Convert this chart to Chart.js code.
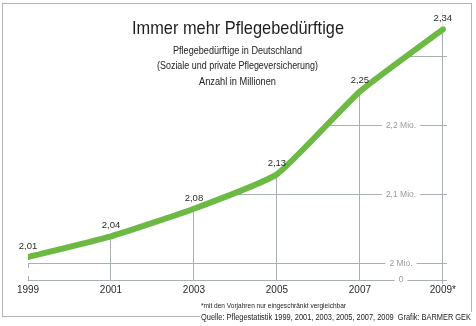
<!DOCTYPE html>
<html><head><meta charset="utf-8">
<script src="https://cdn.jsdelivr.net/npm/chart.js@4"></script>
<style>
html,body{margin:0;padding:0;background:#fff;}
#wrap{position:relative;width:476px;height:326px;overflow:hidden;}
canvas{position:absolute;left:0;top:0;}
.t{position:absolute;white-space:nowrap;color:#222;font-family:"Liberation Sans","DejaVu Sans",sans-serif;line-height:1;}
.ln{position:absolute;background:#b4b4b4;}
</style></head><body>
<div id="wrap">
<canvas id="c" width="476" height="326"></canvas>
<div class="ln" style="left:2px;top:3px;width:470px;height:1px"></div>
<div class="ln" style="left:2px;top:3px;width:1px;height:314px"></div>
<div class="ln" style="left:471px;top:3px;width:1px;height:309px"></div>
<div class="ln" style="left:2px;top:316px;width:198px;height:1px"></div>
<div class="t" data-x="237.5" data-y="27" data-w="212" data-a="c" style="font-size:19px;color:#1e1e1e">Immer mehr Pflegebedürftige</div>
<div class="t" data-x="237.5" data-y="51" data-w="129" data-a="c" style="font-size:10px">Pflegebedürftige in Deutschland</div>
<div class="t" data-x="237.5" data-y="66" data-w="161" data-a="c" style="font-size:10px">(Soziale und private Pflegeversicherung)</div>
<div class="t" data-x="237.5" data-y="82" data-w="77" data-a="c" style="font-size:10px">Anzahl in Millionen</div>
<div class="t" data-x="201" data-y="305" data-w="145" data-a="l" style="font-size:7px">*mit den Vorjahren nur eingeschränkt vergleichbar</div>
<div class="t" data-x="201" data-y="317" data-w="270" data-a="l" style="font-size:8.5px">Quelle: Pflegestatistik 1999, 2001, 2003, 2005, 2007, 2009&nbsp;&nbsp;Grafik: BARMER GEK</div>
</div>
<script>
document.querySelectorAll('.t').forEach(el => {
  const w = el.getBoundingClientRect().width, h = el.getBoundingClientRect().height;
  const tw = parseFloat(el.dataset.w), s = tw / w;
  const x = parseFloat(el.dataset.x), y = parseFloat(el.dataset.y);
  el.style.transformOrigin = '0 0';
  el.style.left = (el.dataset.a === 'c' ? x - tw / 2 : x) + 'px';
  el.style.top = (y - h / 2) + 'px';
  el.style.transform = 'scaleX(' + s + ')';
});

const years = [1999, 2001, 2003, 2005, 2007, 2009];
const yearLabels = ["1999", "2001", "2003", "2005", "2007", "2009*"];
const values = [2.01, 2.04, 2.08, 2.13, 2.25, 2.34];
const valueLabels = ["2,01", "2,04", "2,08", "2,13", "2,25", "2,34"];
const gridValues = [1.9768, 2.0, 2.1, 2.2, 2.3];
const gridLabels = ["0", "2 Mio.", "2,1 Mio.", "2,2 Mio.", ""];

const GRID = '#a9b0b4';
const FONT = '"Liberation Sans","DejaVu Sans",sans-serif';

const overlay = {
  id: 'overlay',
  beforeDatasetsDraw(chart) {
    const ctx = chart.ctx, x = chart.scales.x, y = chart.scales.y;
    ctx.save();
    ctx.strokeStyle = GRID; ctx.lineWidth = 1;
    const px = Math.round(x.getPixelForValue(years[0])) + 0.5;
    ctx.beginPath();
    ctx.moveTo(px, y.getPixelForValue(gridValues[1]));
    ctx.lineTo(px, y.getPixelForValue(gridValues[1]) + 4);
    ctx.moveTo(px, y.getPixelForValue(gridValues[0]) - 4);
    ctx.lineTo(px, y.getPixelForValue(gridValues[0]));
    ctx.stroke();
    ctx.restore();
  },
  afterDatasetsDraw(chart) {
    const ctx = chart.ctx, x = chart.scales.x, y = chart.scales.y;
    ctx.save();
    ctx.font = '8.5px ' + FONT;
    ctx.textAlign = 'center'; ctx.textBaseline = 'middle';
    const lx = 401;
    gridValues.forEach((v, i) => {
      if (!gridLabels[i]) return;
      const py = y.getPixelForValue(v);
      const w = ctx.measureText(gridLabels[i]).width;
      ctx.fillStyle = '#fff';
      ctx.fillRect(lx - w / 2 - 4, py - 5, w + 8, 10);
      ctx.fillStyle = '#9a9a9a';
      ctx.fillText(gridLabels[i], lx, py);
    });
    ctx.font = '9.5px ' + FONT;
    ctx.fillStyle = '#2a2a2a';
    ctx.textBaseline = 'alphabetic';
    values.forEach((v, i) => {
      const px = x.getPixelForValue(years[i]);
      const py = y.getPixelForValue(v);
      ctx.fillText(valueLabels[i], px, py - 8);
    });
    ctx.restore();
  }
};

new Chart(document.getElementById('c'), {
  type: 'line',
  data: {
    datasets: [{
      data: years.map((yr, i) => ({x: yr, y: values[i]})),
      borderColor: '#6cb944',
      borderWidth: 6,
      borderCapStyle: 'round',
      borderJoinStyle: 'round',
      pointRadius: 0,
      tension: 0.15,
      fill: 'end',
      backgroundColor: '#ffffff'
    }]
  },
  options: {
    responsive: false,
    animation: false,
    events: [],
    layout: {padding: {left: 28, right: 29, top: 10, bottom: 26}},
    plugins: {legend: {display: false}, tooltip: {enabled: false}},
    scales: {
      x: {
        type: 'linear', min: 1999, max: 2009.1,
        afterBuildTicks(s) { s.ticks = years.map(v => ({value: v})); },
        afterFit(s) { s.height = 20; },
        grid: {
          color: ctx => (ctx.tick && ctx.tick.value === 1999) ? 'rgba(0,0,0,0)' : GRID,
          drawTicks: true, tickLength: 4, tickColor: ctx => (ctx.tick && ctx.tick.value === 2009) ? GRID : 'rgba(0,0,0,0)'
        },
        border: {display: false},
        ticks: {
          autoSkip: false, maxRotation: 0, padding: 0,
          color: '#2a2a2a', font: {family: FONT, size: 10},
          callback: (v) => yearLabels[years.indexOf(v)]
        }
      },
      y: {
        type: 'linear', min: 1.9768, max: 2.368,
        afterBuildTicks(s) { s.ticks = gridValues.map(v => ({value: v})); },
        afterFit(s) { s.width = 0; },
        grid: {color: GRID, drawTicks: false},
        border: {display: false},
        ticks: {display: false}
      }
    }
  },
  plugins: [overlay]
});
</script>
</body></html>
